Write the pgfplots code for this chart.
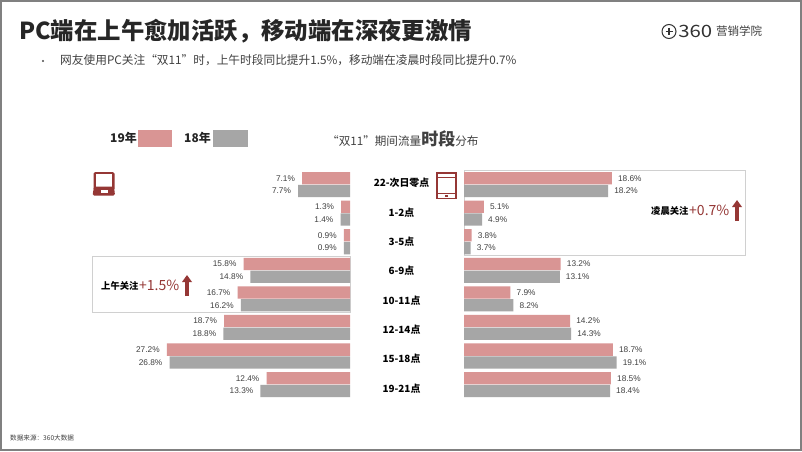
\documentclass[border=0pt]{standalone}
\usepackage{pgfplots}
\usepackage{pgfplotstable}
\usepackage{fontspec}
\usetikzlibrary{arrows.meta}
\pgfplotsset{compat=1.18}
\setmainfont{Noto Sans CJK SC}
\newfontfamily\num{Liberation Sans}
\definecolor{pinkb}{HTML}{D99594}
\definecolor{greyb}{HTML}{A6A6A6}
\definecolor{dred}{HTML}{953735}
\definecolor{boxc}{HTML}{D0D0D0}
\definecolor{framec}{HTML}{808080}
\definecolor{lab}{HTML}{404040}
\pgfplotstableread{
row a19 a18
0 7.1 7.7
1 1.3 1.4
2 0.9 0.9
3 15.8 14.8
4 16.7 16.2
5 18.7 18.8
6 27.2 26.8
7 12.4 13.3
}\pcdata
\pgfplotstableread{
row a19 a18
0 18.6 18.2
1 5.1 4.9
2 3.8 3.7
3 13.2 13.1
4 7.9 8.2
5 14.2 14.3
6 18.7 19.1
7 18.5 18.4
}\mobiledata
\pgfplotsset{halfaxis/.style={
  scale only axis, y=28.57pt, ymin=-0.5, ymax=7.5, y dir=reverse,
  xbar, bar width=12.3pt, clip=false,
  enlargelimits=false,
  nodes near coords={\pgfmathprintnumber[assume math mode=true,fixed,fixed zerofill,precision=1]{\pgfplotspointmeta}\%},
  point meta=x,
  every node near coord/.append style={font=\num\fontsize{8.3pt}{10pt}\selectfont, text=lab, inner sep=0pt},
}}
\begin{document}
\begin{tikzpicture}[x=1pt,y=1pt]
\useasboundingbox (0,0) rectangle (802,451);
\fill[white] (0,0) rectangle (802,451);
\draw[framec,line width=1.6pt] (0.8,0.8) rectangle (801.2,450.2);
% title
\node[anchor=west,inner sep=0pt,text=black!85] at (19,{451-31}) {\fontsize{23.4pt}{26pt}\selectfont\bfseries PC端在上午愈加活跃，移动端在深夜更激情};
\fill[black!70] (43,{451-61}) circle (1.1);
\node[anchor=west,inner sep=0pt,text=lab] at (60,{451-60}) {\fontsize{11.7pt}{14pt}\selectfont 网友使用PC关注“双11”时，上午时段同比提升1.5\%，移动端在凌晨时段同比提升0.7\%};
% logo
\draw[black!80,line width=1pt] (669,{451-31.5}) circle (7);
\draw[black!80,line width=1.2pt] (665.5,{451-31.5}) -- (672.5,{451-31.5}) (669,{451-28}) -- (669,{451-35});
\node[anchor=west,inner sep=0pt,text=black!80,xscale=1.2] at (678,{451-31.5}) {\fontsize{17pt}{18pt}\selectfont 360};
\node[anchor=west,inner sep=0pt,text=black!75] at (716,{451-31.5}) {\fontsize{11.5pt}{13pt}\selectfont 营销学院};
% legend
\node[anchor=west,inner sep=0pt,text=black!85] at (110,{451-138}) {\fontsize{12pt}{14pt}\selectfont\bfseries 19年};
\fill[pinkb] (138,{451-130}) rectangle (172,{451-146.7});
\node[anchor=west,inner sep=0pt,text=black!85] at (184,{451-138}) {\fontsize{12pt}{14pt}\selectfont\bfseries 18年};
\fill[greyb] (213,{451-130}) rectangle (247.5,{451-146.7});
\node[anchor=west,inner sep=0pt,text=lab] at (327,{451-139.3}) {\fontsize{11.6pt}{14pt}\selectfont “双11”期间流量{\fontsize{17pt}{18pt}\selectfont\bfseries 时段}分布};
% boxes
\draw[boxc,fill=white,line width=0.9pt] (92,{451-256.7}) rectangle (350,{451-312.5});
\draw[boxc,fill=white,line width=0.9pt] (464,{451-170}) rectangle (745,{451-255.5});
% left axis
\begin{axis}[halfaxis, hide axis, at={(350pt,{451pt-170.3pt})}, anchor=north east,
  width=202pt, xmin=0, xmax=30, x dir=reverse,
  every node near coord/.append style={anchor=east,xshift=-7pt}]
\addplot[fill=pinkb,draw=none,bar shift=6.4pt] table[x=a19,y=row]{\pcdata};
\addplot[fill=greyb,draw=none,bar shift=-6.4pt] table[x=a18,y=row]{\pcdata};
\end{axis}
% right axis
\begin{axis}[halfaxis, at={(464pt,{451pt-170.3pt})}, anchor=north west,
  width=189.6pt, xmin=3, xmax=23, 
  every node near coord/.append style={anchor=west,xshift=6pt},
  axis line style={draw=none}, major tick length=0pt, tick style={draw=none},
  xtick=\empty, ytick pos=left,
  ytick={-0.05,0.975,2.0,3.025,4.05,5.075,6.1,7.13},
  yticklabels={22-次日零点,1-2点,3-5点,6-9点,10-11点,12-14点,15-18点,19-21点},
  yticklabel style={anchor=center,xshift=-62.5pt,font=\fontsize{9.9pt}{12pt}\selectfont\bfseries,text=black}]
\addplot[fill=pinkb,draw=none,bar shift=6.4pt] table[x=a19,y=row]{\mobiledata};
\addplot[fill=greyb,draw=none,bar shift=-6.4pt] table[x=a18,y=row]{\mobiledata};
\end{axis}
% annotations
\node[anchor=west,inner sep=0pt,text=black] at (101,{451-286}) {\fontsize{9.3pt}{11pt}\selectfont\bfseries 上午关注};
\node[anchor=west,inner sep=0pt,text=dred] at (139,{451-285}) {\fontsize{14pt}{16pt}\selectfont +1.5\%};
\draw[dred,line width=3.5pt,-{Triangle[length=7pt,width=9.5pt]}] (187,{451-296}) -- (187,{451-275});
\node[anchor=west,inner sep=0pt,text=black] at (651,{451-211}) {\fontsize{9.3pt}{11pt}\selectfont\bfseries 凌晨关注};
\node[anchor=west,inner sep=0pt,text=dred] at (689,{451-210}) {\fontsize{14pt}{16pt}\selectfont +0.7\%};
\draw[dred,line width=3.5pt,-{Triangle[length=7pt,width=9.5pt]}] (737,{451-221}) -- (737,{451-200});
% laptop icon
\fill[dred,rounded corners=1.5pt] (93.5,{451-172}) rectangle (114.5,{451-190});
\fill[white] (95.8,{451-174.3}) rectangle (112.2,{451-186.5});
\fill[dred,rounded corners=1.5pt] (94,{451-186.5}) -- (114,{451-186.5}) -- (115,{451-195.5}) -- (92.5,{451-195.5}) -- cycle;
\fill[white] (100.5,{451-190}) rectangle (107.5,{451-193});
% tablet icon
\draw[dred,line width=1.6pt] (437,{451-173}) rectangle (456,{451-198.5});
\draw[dred,line width=1.3pt] (437,{451-177.5}) -- (456,{451-177.5}) (437,{451-193.5}) -- (456,{451-193.5});
\fill[dred] (445,{451-194.8}) rectangle (448,{451-197});
% source
\node[anchor=west,inner sep=0pt,text=lab] at (10,{451-438}) {\fontsize{6.6pt}{8pt}\selectfont 数据来源：360大数据};
\end{tikzpicture}
\end{document}
